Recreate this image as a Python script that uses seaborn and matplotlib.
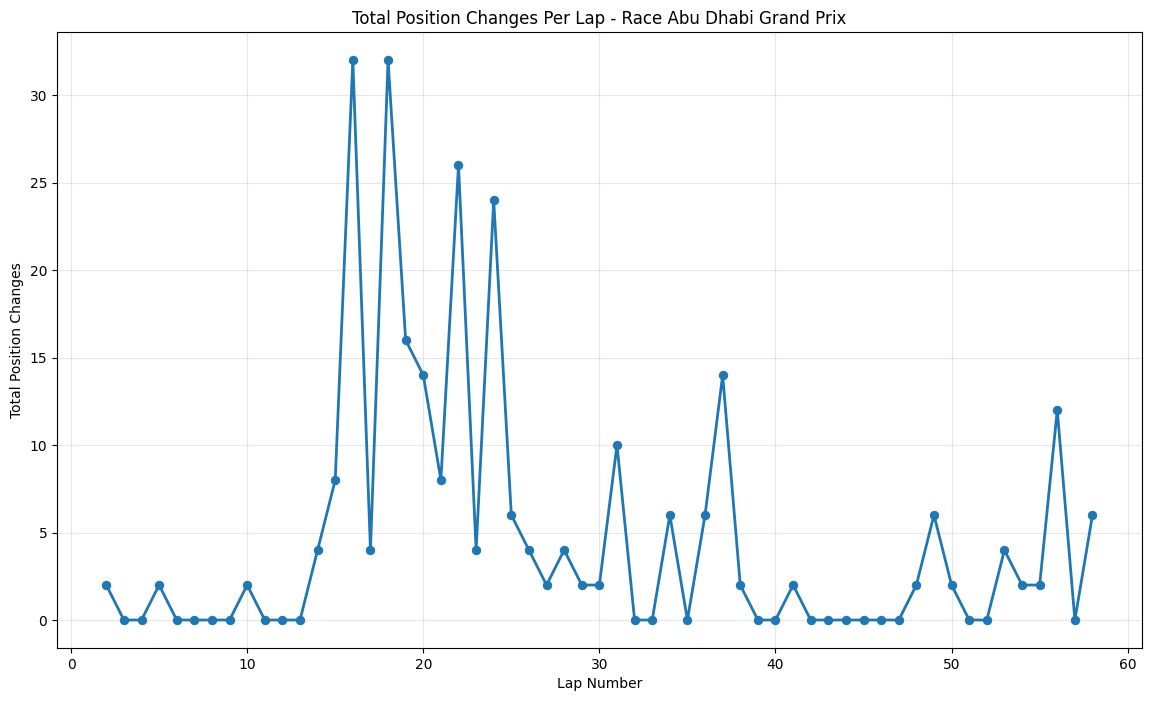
import matplotlib
matplotlib.use("Agg")
import matplotlib.pyplot as plt
import seaborn as sns
import pandas as pd

laps = list(range(2, 59))
changes = [2, 0, 0, 2, 0, 0, 0, 0, 2, 0, 0, 0, 4, 8, 32, 4, 32, 16, 14, 8,
           26, 4, 24, 6, 4, 2, 4, 2, 2, 10, 0, 0, 6, 0, 6, 14, 2, 0, 0, 2,
           0, 0, 0, 0, 0, 0, 2, 6, 2, 0, 0, 4, 2, 2, 12, 0, 6]

df = pd.DataFrame({"Lap Number": laps, "Total Position Changes": changes})

fig, ax = plt.subplots(figsize=(11.51, 7.01), dpi=100)
sns.lineplot(data=df, x="Lap Number", y="Total Position Changes", ax=ax,
             marker="o", markersize=6, linewidth=2, color="#1f77b4",
             markeredgecolor="#1f77b4")
ax.set_title("Total Position Changes Per Lap - Race Abu Dhabi Grand Prix")
ax.set_xlabel("Lap Number")
ax.set_ylabel("Total Position Changes")
ax.grid(True, alpha=0.3)
fig.subplots_adjust(left=0.0495, right=0.992, bottom=0.0756, top=0.954)
fig.savefig("out.png", dpi=100)
